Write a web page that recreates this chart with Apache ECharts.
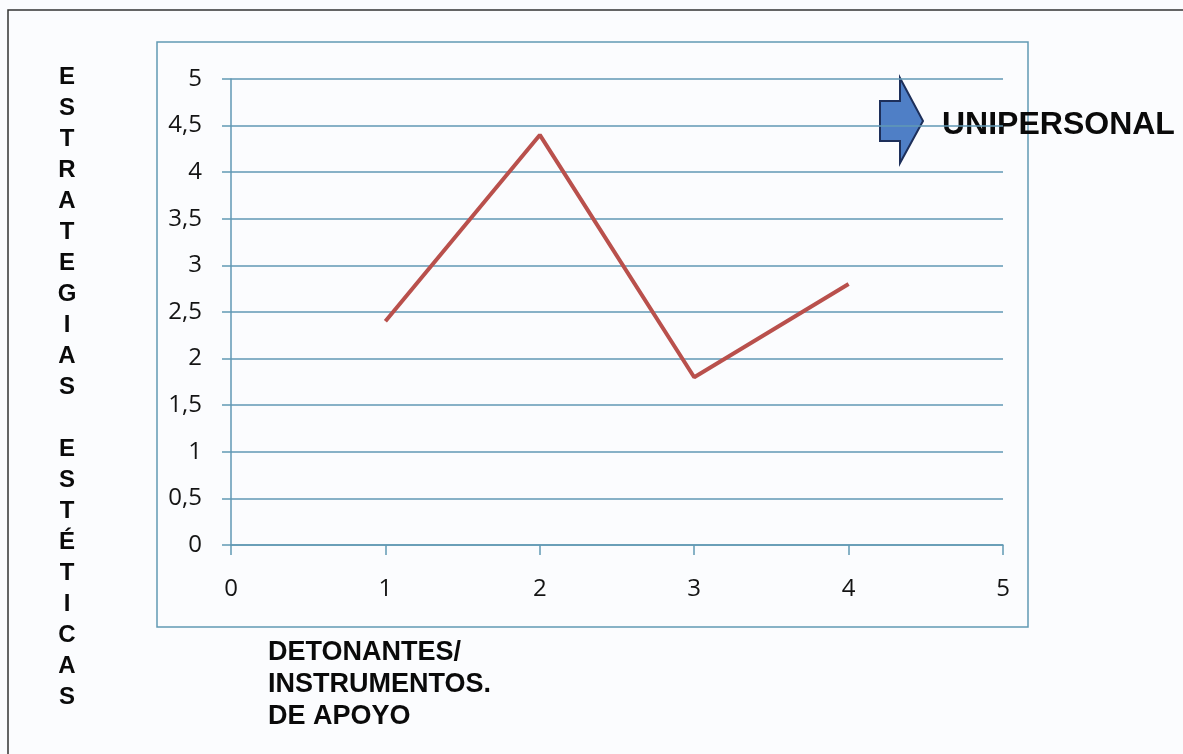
<!DOCTYPE html>
<html>
<head>
<meta charset="utf-8">
<script src="https://cdn.jsdelivr.net/npm/echarts@6/dist/echarts.min.js"></script>
<style>
  html, body { margin: 0; padding: 0; background: #fbfcfe; }
  #chart { width: 1183px; height: 754px; }
</style>
</head>
<body>
<div id="chart"></div>
<script>
// datos
const xValues = [1, 2, 3, 4];
const yValues = [2.4, 4.4, 1.8, 2.8];
const seriesName = "UNIPERSONAL";
const yTitleLetters = ["E","S","T","R","A","T","E","G","I","A","S","","E","S","T","É","T","I","C","A","S"];
const xTitleLines = ["DETONANTES/", "INSTRUMENTOS.", "DE APOYO"];

const gridColor = "#6199b4";
const lineColor = "#b9504c";
const points = xValues.map((x, i) => [x, yValues[i]]);

const chart = echarts.init(document.getElementById("chart"));

chart.setOption({
  backgroundColor: "#fbfcfe",
  animation: false,
  grid: {
    left: 231,
    right: 180,
    top: 79,
    bottom: 209,
  },
  xAxis: {
    type: "value",
    min: 0,
    max: 5,
    interval: 1,
    axisLine: { show: true, lineStyle: { color: gridColor, width: 1.5 } },
    axisTick: { show: true, length: 10, lineStyle: { color: gridColor, width: 1.5 } },
    axisLabel: {
      margin: 32,
      fontFamily: "Open Sans",
      fontSize: 24,
      color: "#141414",
    },
    splitLine: { show: false },
  },
  yAxis: {
    type: "value",
    min: 0,
    max: 5,
    interval: 0.5,
    axisLine: { show: true, lineStyle: { color: gridColor, width: 1.5 } },
    axisTick: { show: true, length: 9, lineStyle: { color: gridColor, width: 1.5 } },
    axisLabel: {
      margin: 29,
      fontFamily: "Open Sans",
      fontSize: 24,
      color: "#141414",
      formatter: (v) => String(v).replace(".", ","),
    },
    splitLine: { show: true, lineStyle: { color: gridColor, width: 1.5 } },
  },
  series: [
    {
      name: seriesName,
      type: "line",
      data: points,
      symbol: "none",
      lineStyle: { color: lineColor, width: 4 },
    },
  ],
  graphic: [
    // marco exterior (solo arriba e izquierda visibles)
    {
      type: "polyline",
      shape: { points: [[8, 754], [8, 10], [1183, 10]] },
      style: { stroke: "#333", lineWidth: 1.5, fill: null },
      silent: true,
    },
    // borde del área del gráfico
    {
      type: "rect",
      shape: { x: 157, y: 42, width: 871, height: 585 },
      style: { stroke: gridColor, lineWidth: 1.5, fill: null },
      silent: true,
    },
    // leyenda: flecha + nombre
    {
      type: "polygon",
      shape: {
        points: [[880, 101], [900, 101], [900, 78], [923, 121], [900, 163], [900, 141], [880, 141]],
      },
      style: { fill: "#4f7fc6", stroke: "#1d2f5a", lineWidth: 2 },
      silent: true,
    },
    {
      type: "text",
      left: 942,
      top: 109,
      style: {
        text: seriesName,
        font: "bold 32px 'Liberation Sans', Arial, sans-serif",
        fill: "#0a0a0a",
      },
      silent: true,
    },
    // título eje Y vertical
    {
      type: "text",
      x: 67,
      y: 62,
      style: {
        text: yTitleLetters.join("\n"),
        font: "bold 24px 'Liberation Sans', Arial, sans-serif",
        lineHeight: 31,
        align: "center",
        verticalAlign: "top",
        fill: "#0a0a0a",
      },
      silent: true,
    },
    // título eje X
    {
      type: "text",
      x: 268,
      y: 637,
      style: {
        text: xTitleLines.join("\n"),
        font: "bold 27px 'Liberation Sans', Arial, sans-serif",
        lineHeight: 32,
        align: "left",
        verticalAlign: "top",
        fill: "#0a0a0a",
      },
      silent: true,
    },
  ],
});
</script>
</body>
</html>
